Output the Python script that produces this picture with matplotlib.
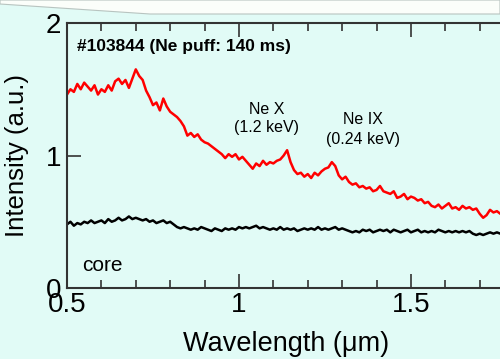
import numpy as np
import matplotlib
matplotlib.use('Agg')
import matplotlib.pyplot as plt
from matplotlib.patches import Polygon
from matplotlib.ticker import MultipleLocator

plt.rcParams['font.family'] = ['Liberation Sans', 'DejaVu Sans']

# wavelength grid (um)
wavelength = np.round(np.arange(0.50, 1.785, 0.01), 2)

# red spectrum (upper trace)
red = [1.46, 1.50, 1.48, 1.54, 1.50, 1.55, 1.52, 1.49, 1.53, 1.46,
       1.50, 1.48, 1.53, 1.49, 1.56, 1.58, 1.54, 1.57, 1.51, 1.58,
       1.65, 1.60, 1.57, 1.49, 1.44, 1.38, 1.40, 1.34, 1.43, 1.37,
       1.33, 1.31, 1.29, 1.26, 1.22, 1.15, 1.17, 1.14, 1.16, 1.12,
       1.10, 1.09, 1.07, 1.05, 1.03, 1.01, 0.98, 1.01, 0.99, 1.01,
       0.97, 0.99, 0.96, 0.93, 0.90, 0.94, 0.92, 0.96, 0.93, 0.95,
       0.94, 0.96, 0.97, 1.00, 1.04, 0.95, 0.89, 0.86, 0.87, 0.84,
       0.86, 0.83, 0.87, 0.85, 0.88, 0.90, 0.91, 0.95, 0.92, 0.85,
       0.82, 0.84, 0.80, 0.78, 0.79, 0.76, 0.77, 0.75, 0.76, 0.73,
       0.74, 0.77, 0.73, 0.72, 0.71, 0.73, 0.68, 0.69, 0.71, 0.67,
       0.69, 0.68, 0.66, 0.67, 0.64, 0.65, 0.62, 0.61, 0.63, 0.60,
       0.62, 0.64, 0.60, 0.61, 0.59, 0.62, 0.60, 0.61, 0.59, 0.60,
       0.56, 0.53, 0.55, 0.59, 0.57, 0.58, 0.56, 0.57, 0.58]

# black spectrum (core)
core = [0.48, 0.50, 0.47, 0.49, 0.48, 0.50, 0.49, 0.51, 0.49, 0.50,
        0.51, 0.49, 0.52, 0.50, 0.51, 0.53, 0.51, 0.52, 0.54, 0.52,
        0.53, 0.52, 0.51, 0.52, 0.50, 0.51, 0.49, 0.50, 0.51, 0.49,
        0.50, 0.48, 0.46, 0.45, 0.46, 0.45, 0.44, 0.45, 0.44, 0.46,
        0.45, 0.44, 0.43, 0.45, 0.44, 0.43, 0.45, 0.44, 0.45, 0.44,
        0.46, 0.45, 0.46, 0.45, 0.46, 0.47, 0.45, 0.46, 0.45, 0.44,
        0.45, 0.44, 0.46, 0.44, 0.45, 0.44, 0.45, 0.43, 0.44, 0.45,
        0.44, 0.45, 0.44, 0.46, 0.44, 0.45, 0.44, 0.45, 0.46, 0.44,
        0.45, 0.44, 0.43, 0.42, 0.43, 0.42, 0.44, 0.43, 0.44, 0.42,
        0.43, 0.44, 0.43, 0.44, 0.42, 0.44, 0.43, 0.42, 0.43, 0.44,
        0.42, 0.43, 0.44, 0.42, 0.43, 0.42, 0.43, 0.42, 0.44, 0.43,
        0.42, 0.43, 0.42, 0.43, 0.42, 0.43, 0.42, 0.43, 0.41, 0.40,
        0.41, 0.40, 0.41, 0.42, 0.41, 0.42, 0.41, 0.42, 0.42]

bg = '#e1fbf6'
fig = plt.figure(figsize=(5.0, 3.59), dpi=100, facecolor=bg)

# whitish slide band at the top
W, H = 500, 359
band = Polygon([(0, 1), (0, (H - 4) / H), (150 / W, (H - 14) / H), (1, (H - 14) / H), (1, 1)],
               closed=True, transform=fig.transFigure, facecolor='#fbfefa',
               edgecolor='#b8c4c0', linewidth=0.8, zorder=0)
fig.patches.append(band)

ax = fig.add_axes([67 / W, 71 / H, 1 - 67 / W + 0.01, 265 / H])
ax.set_facecolor(bg)

ax.plot(wavelength, red, color='#ff0000', linewidth=1.8)
ax.plot(wavelength, core, color='black', linewidth=1.8)

ax.set_xlim(0.5, 0.5 + 433 / 340)
ax.set_ylim(0, 2)
ax.xaxis.set_minor_locator(MultipleLocator(0.1))
ax.set_xticks([0.5, 1, 1.5])
ax.set_xticklabels(['0.5', '1', '1.5'])
ax.set_yticks([0, 1, 2])
ax.set_yticklabels(['0', '1', '2'])

ax.tick_params(which='both', direction='in', top=True, right=False, color='#333333',
               labelsize=20, pad=4)
ax.tick_params(which='major', length=10, width=1.2)
ax.tick_params(which='minor', length=6, width=1.2)
ax.tick_params(axis='x', pad=3)
for s in ['left', 'bottom', 'top']:
    ax.spines[s].set_color('#333333')
    ax.spines[s].set_linewidth(1.5)
ax.spines['right'].set_visible(False)

ax.set_xlabel('Wavelength (\u03bcm)', fontsize=19.5, labelpad=9)
ax.set_ylabel('Intensity (a.u.)', fontsize=18.5)
ax.yaxis.set_label_coords(-0.087, 0.5)

ax.text(0.53, 1.82, '#103844 (Ne puff: 140 ms)', fontsize=12.5, fontweight='bold', va='center')
ax.text(1.08, 1.35, 'Ne X', fontsize=11.5, ha='center', va='center')
ax.text(1.08, 1.21, '(1.2 keV)', fontsize=11.5, ha='center', va='center')
ax.text(1.36, 1.27, 'Ne IX', fontsize=11.5, ha='center', va='center')
ax.text(1.36, 1.12, '(0.24 keV)', fontsize=11.5, ha='center', va='center')
ax.text(0.545, 0.17, 'core', fontsize=15, va='center')

fig.savefig('out.png', dpi=100, facecolor=bg)
